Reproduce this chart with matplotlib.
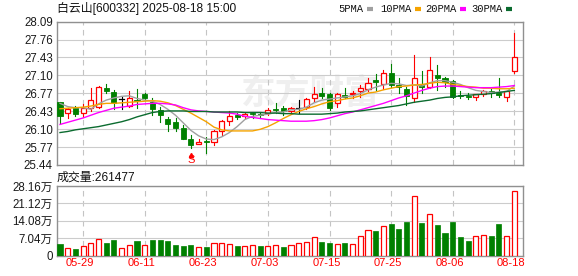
import matplotlib
matplotlib.use("Agg")
import matplotlib.pyplot as plt
from matplotlib.patches import Rectangle
from matplotlib.lines import Line2D

plt.rcParams['font.family'] = ['Liberation Sans', 'Noto Sans CJK SC']

# ---- data ----
dates = ["05-26", "05-27", "05-28", "05-29", "05-30",
         "06-03", "06-04", "06-05", "06-06", "06-09", "06-10", "06-11", "06-12", "06-13",
         "06-16", "06-17", "06-18", "06-19", "06-20", "06-23", "06-24", "06-25", "06-26",
         "06-27", "06-30",
         "07-01", "07-02", "07-03", "07-04", "07-07", "07-08", "07-09", "07-10", "07-11",
         "07-14", "07-15", "07-16", "07-17", "07-18", "07-21", "07-22", "07-23", "07-24",
         "07-25", "07-28", "07-29", "07-30", "07-31",
         "08-01", "08-04", "08-05", "08-06", "08-07", "08-08", "08-11", "08-12", "08-13",
         "08-14", "08-15", "08-18"]

opens = [26.60, 26.41, 26.49, 26.40, 26.49, 26.51, 26.86, 26.79, 26.66, 26.54,
         26.65, 26.75, 26.60, 26.45, 26.29, 26.24, 26.12, 25.93, 25.83, 25.87,
         25.86, 26.07, 26.26, 26.36, 26.35, 26.39, 26.38, 26.40, 26.47, 26.50,
         26.43, 26.49, 26.52, 26.67, 26.78, 26.75, 26.58, 26.73, 26.75, 26.80,
         26.84, 27.02, 26.93, 27.15, 26.92, 26.84, 26.68, 26.94, 26.88, 27.10,
         27.05, 26.99, 26.73, 26.72, 26.70, 26.75, 26.80, 26.78, 26.69, 27.17]
highs = [26.61, 26.50, 26.53, 26.56, 26.86, 26.90, 26.94, 26.83, 26.70, 26.81,
         26.85, 26.78, 26.68, 26.52, 26.33, 26.31, 26.18, 25.99, 25.92, 25.96,
         26.09, 26.27, 26.43, 26.41, 26.41, 26.41, 26.41, 26.49, 26.58, 26.53,
         26.52, 26.65, 26.68, 26.88, 26.86, 26.78, 26.77, 26.86, 26.81, 26.92,
         27.04, 27.12, 27.20, 27.31, 27.04, 26.89, 27.47, 27.17, 27.43, 27.29,
         27.07, 27.01, 26.80, 26.78, 26.75, 26.83, 26.85, 27.04, 26.81, 27.89]
lows = [26.22, 26.30, 26.35, 26.33, 26.43, 26.50, 26.77, 26.47, 26.47, 26.51,
        26.49, 26.65, 26.36, 26.24, 26.06, 26.06, 25.92, 25.75, 25.83, 25.66,
        25.81, 25.99, 26.18, 26.29, 26.30, 26.31, 26.31, 26.36, 26.40, 26.36,
        26.40, 26.40, 26.48, 26.62, 26.67, 26.46, 26.51, 26.67, 26.67, 26.70,
        26.80, 26.83, 26.84, 26.89, 26.77, 26.55, 26.61, 26.77, 26.86, 26.83,
        26.89, 26.68, 26.68, 26.66, 26.64, 26.72, 26.70, 26.70, 26.63, 27.14]
closes = [26.35, 26.47, 26.38, 26.50, 26.64, 26.88, 26.80, 26.58, 26.66, 26.67,
          26.63, 26.67, 26.47, 26.37, 26.19, 26.12, 25.93, 25.81, 25.87, 25.86,
          26.07, 26.25, 26.35, 26.33, 26.38, 26.38, 26.37, 26.46, 26.46, 26.43,
          26.49, 26.49, 26.66, 26.75, 26.72, 26.49, 26.75, 26.70, 26.78, 26.86,
          26.96, 26.98, 27.15, 26.92, 26.88, 26.72, 27.04, 26.88, 27.20, 27.05,
          26.98, 26.70, 26.72, 26.70, 26.75, 26.80, 26.78, 26.73, 26.80, 27.43]

ma5 = [26.58, 26.52, 26.50, 26.50, 26.47, 26.57, 26.64, 26.68, 26.71, 26.72,
       26.67, 26.64, 26.62, 26.56, 26.47, 26.36, 26.22, 26.08, 25.98, 25.92,
       25.91, 25.96, 26.04, 26.15, 26.28, 26.34, 26.36, 26.38, 26.41, 26.42,
       26.46, 26.47, 26.51, 26.59, 26.64, 26.66, 26.68, 26.70, 26.72, 26.76,
       26.83, 26.88, 26.92, 26.95, 26.94, 26.91, 26.92, 26.90, 26.96, 27.00,
       27.00, 26.97, 26.93, 26.87, 26.82, 26.80, 26.78, 26.79, 26.80, 26.90]
ma10 = [26.48, 26.49, 26.50, 26.51, 26.53, 26.56, 26.58, 26.58, 26.59, 26.60,
        26.61, 26.62, 26.63, 26.62, 26.59, 26.54, 26.47, 26.40, 26.32, 26.24,
        26.14, 26.09, 26.07, 26.07, 26.07, 26.07, 26.10, 26.15, 26.22, 26.30,
        26.37, 26.43, 26.48, 26.52, 26.57, 26.61, 26.63, 26.66, 26.68, 26.72,
        26.77, 26.79, 26.83, 26.86, 26.89, 26.90, 26.92, 26.93, 26.95, 26.97,
        26.96, 26.93, 26.91, 26.89, 26.88, 26.86, 26.86, 26.85, 26.85, 26.86]
ma20 = [26.19, 26.23, 26.27, 26.31, 26.36, 26.41, 26.45, 26.49, 26.51, 26.53,
        26.56, 26.57, 26.58, 26.58, 26.57, 26.55, 26.50, 26.46, 26.44, 26.43,
        26.42, 26.41, 26.40, 26.38, 26.34, 26.32, 26.30, 26.28, 26.27, 26.26,
        26.25, 26.25, 26.25, 26.26, 26.28, 26.31, 26.35, 26.39, 26.42, 26.46,
        26.50, 26.54, 26.58, 26.63, 26.68, 26.72, 26.77, 26.82, 26.86, 26.89,
        26.90, 26.90, 26.89, 26.88, 26.87, 26.87, 26.87, 26.88, 26.89, 26.91]
ma30 = [26.04, 26.06, 26.09, 26.11, 26.13, 26.15, 26.18, 26.21, 26.24, 26.28,
        26.33, 26.37, 26.41, 26.43, 26.44, 26.44, 26.44, 26.43, 26.43, 26.43,
        26.42, 26.42, 26.42, 26.42, 26.41, 26.41, 26.41, 26.40, 26.40, 26.39,
        26.39, 26.38, 26.38, 26.38, 26.38, 26.39, 26.40, 26.42, 26.43, 26.44,
        26.46, 26.48, 26.50, 26.52, 26.54, 26.57, 26.60, 26.62, 26.64, 26.67,
        26.69, 26.70, 26.72, 26.73, 26.74, 26.75, 26.76, 26.78, 26.80, 26.82]

# volume in 万 shares, and whether the volume bar is drawn red (up)
volumes = [4.73, 3.11, 2.83, 4.04, 5.00, 6.63, 5.13, 6.34, 3.11, 4.20,
           5.94, 4.20, 6.34, 6.34, 5.94, 4.32, 3.92, 4.32, 3.39, 3.52,
           5.00, 5.00, 4.73, 3.92, 3.92, 4.20, 3.92, 3.92, 4.20, 3.65,
           4.32, 5.00, 5.40, 7.42, 5.54, 5.13, 4.60, 5.13, 4.60, 7.83,
           10.38, 9.97, 11.86, 12.80, 10.78, 13.60, 24.00, 13.20, 16.70, 12.40,
           9.17, 13.60, 7.56, 5.94, 7.83, 8.24, 7.96, 12.80, 7.96, 26.1477]
vol_up = [0, 1, 0, 1, 1, 1, 0, 0, 1, 1, 0, 1, 0, 0, 0, 0, 0, 0, 1, 0,
          1, 1, 1, 0, 1, 1, 0, 1, 1, 0, 1, 1, 1, 1, 0, 0, 1, 0, 1, 1,
          1, 0, 1, 0, 0, 0, 1, 0, 1, 0, 0, 0, 0, 0, 1, 1, 0, 0, 1, 1]

price_ticks = [25.44, 25.77, 26.10, 26.43, 26.77, 27.10, 27.43, 27.76, 28.09]
vol_ticks = [0, 7.04, 14.08, 21.12, 28.16]
vol_tick_labels = ["0", "7.04万", "14.08万", "21.12万", "28.16万"]
ma_names = ["5PMA", "10PMA", "20PMA", "30PMA"]

RED = "#ff0000"
GREEN = "#008000"
MA_COLORS = ["#a0a0a0", "#f5a300", "#ff00ff", "#0b6b2f"]
GRID = "#cccccc"
SPINE = "#909090"

W, H = 578, 276
fig = plt.figure(figsize=(W / 100, H / 100), dpi=100)


def box(x0, y0, x1, y1):
    """pixel box (top-left origin) -> figure fraction rect"""
    return [x0 / W, 1 - y1 / H, (x1 - x0) / W, (y1 - y0) / H]


ax = fig.add_axes(box(57, 21.7, 523, 165))
axv = fig.add_axes(box(57, 186, 523, 255.7))

n = len(closes)
xs = list(range(n))
tick_idx = list(range(3, n, 8))
for a in (ax, axv):
    a.set_xlim(-0.39, n + 0.13)
    for s in a.spines.values():
        s.set_color(SPINE)
        s.set_linewidth(1.0)
    a.tick_params(length=0, pad=3, labelsize=8.3, colors="#1a1a1a")
    a.set_xticks(tick_idx)
    a.set_xticklabels([])
    a.grid(axis="y", color=GRID, linewidth=0.8, linestyle="-")
    a.grid(axis="x", color="#c4c4c4", linewidth=0.8, linestyle=(0, (5, 4)))
    a.set_axisbelow(True)

# price panel
ax.set_ylim(price_ticks[0], price_ticks[-1])
ax.set_yticks(price_ticks)
ax.set_yticklabels([f"{t:.2f}" for t in price_ticks])

# watermark
ax.text(310 / W, 1 - 93 / H, "东方财富", transform=fig.transFigure,
        fontsize=25, fontweight="bold", color="#efefef",
        family=["Noto Sans CJK SC"], ha="center", va="center", zorder=0.5)

bw = 0.66
for i in xs:
    o, h, l, c = opens[i], highs[i], lows[i], closes[i]
    if c > o:
        ax.plot([i, i], [c, h], color=RED, lw=0.8, zorder=3)
        ax.plot([i, i], [l, o], color=RED, lw=0.8, zorder=3)
        ax.add_patch(Rectangle((i - bw / 2, o), bw, c - o, facecolor="white",
                               edgecolor=RED, lw=0.9, zorder=3))
    elif c < o:
        ax.plot([i, i], [l, h], color=GREEN, lw=0.8, zorder=3)
        ax.add_patch(Rectangle((i - bw / 2, c), bw, max(o - c, 0.015),
                               facecolor=GREEN, edgecolor=GREEN, lw=0.6, zorder=3))
    else:
        ax.plot([i, i], [l, h], color="black", lw=0.8, zorder=3)
        ax.plot([i - bw / 2, i + bw / 2], [c, c], color="black", lw=0.9, zorder=3)

for vals, col in zip([ma5, ma10, ma20, ma30], MA_COLORS):
    ax.plot(xs, vals, color=col, lw=1.0, zorder=4)

# sell marker under the low candle
s_idx = lows.index(min(lows[:19]))
ax.plot([s_idx], [25.63], marker="^", ms=3, color=RED, zorder=5, clip_on=False)
ax.text(s_idx, 25.445, "S", color=RED, fontsize=8, ha="center", va="bottom",
        zorder=5)

# volume panel
axv.set_ylim(vol_ticks[0], vol_ticks[-1])
axv.set_yticks(vol_ticks)
axv.set_yticklabels(vol_tick_labels)
for i in xs:
    if vol_up[i]:
        axv.add_patch(Rectangle((i - bw / 2, 0), bw, volumes[i], facecolor="white",
                                edgecolor=RED, lw=0.9, zorder=3))
    else:
        axv.add_patch(Rectangle((i - bw / 2, 0), bw, volumes[i], facecolor=GREEN,
                                edgecolor=GREEN, lw=0.5, zorder=3))

for i in tick_idx:
    axv.text(i - 0.38, -0.1, dates[i], transform=axv.get_xaxis_transform(),
             color=RED, fontsize=8, ha="center", va="center")

# titles
fig.text(57 / W, 1 - 8.7 / H, "白云山[600332] 2025-08-18 15:00", fontsize=8.6,
         ha="left", va="center", color="#111111")
fig.text(57 / W, 1 - 177.7 / H, f"成交量:{round(volumes[-1] * 10000)}", fontsize=8.6,
         ha="left", va="center", color="#111111")

# MA legend across the top right
legend_x = [338.7, 380.7, 425.3, 471.3]
for lx, name, col in zip(legend_x, ma_names, MA_COLORS):
    t = fig.text(lx / W, 1 - 9 / H, name, fontsize=7.6, family=["Liberation Mono"],
                 ha="left", va="center", color="#111111")
    fig.canvas.draw()
    bb = t.get_window_extent()
    x0 = bb.x1 + 3
    fig.add_artist(Line2D([x0 / W, (x0 + 6) / W], [1 - 9 / H, 1 - 9 / H],
                          color=col, lw=3, solid_capstyle="butt"))

fig.savefig("out.png", dpi=100)
